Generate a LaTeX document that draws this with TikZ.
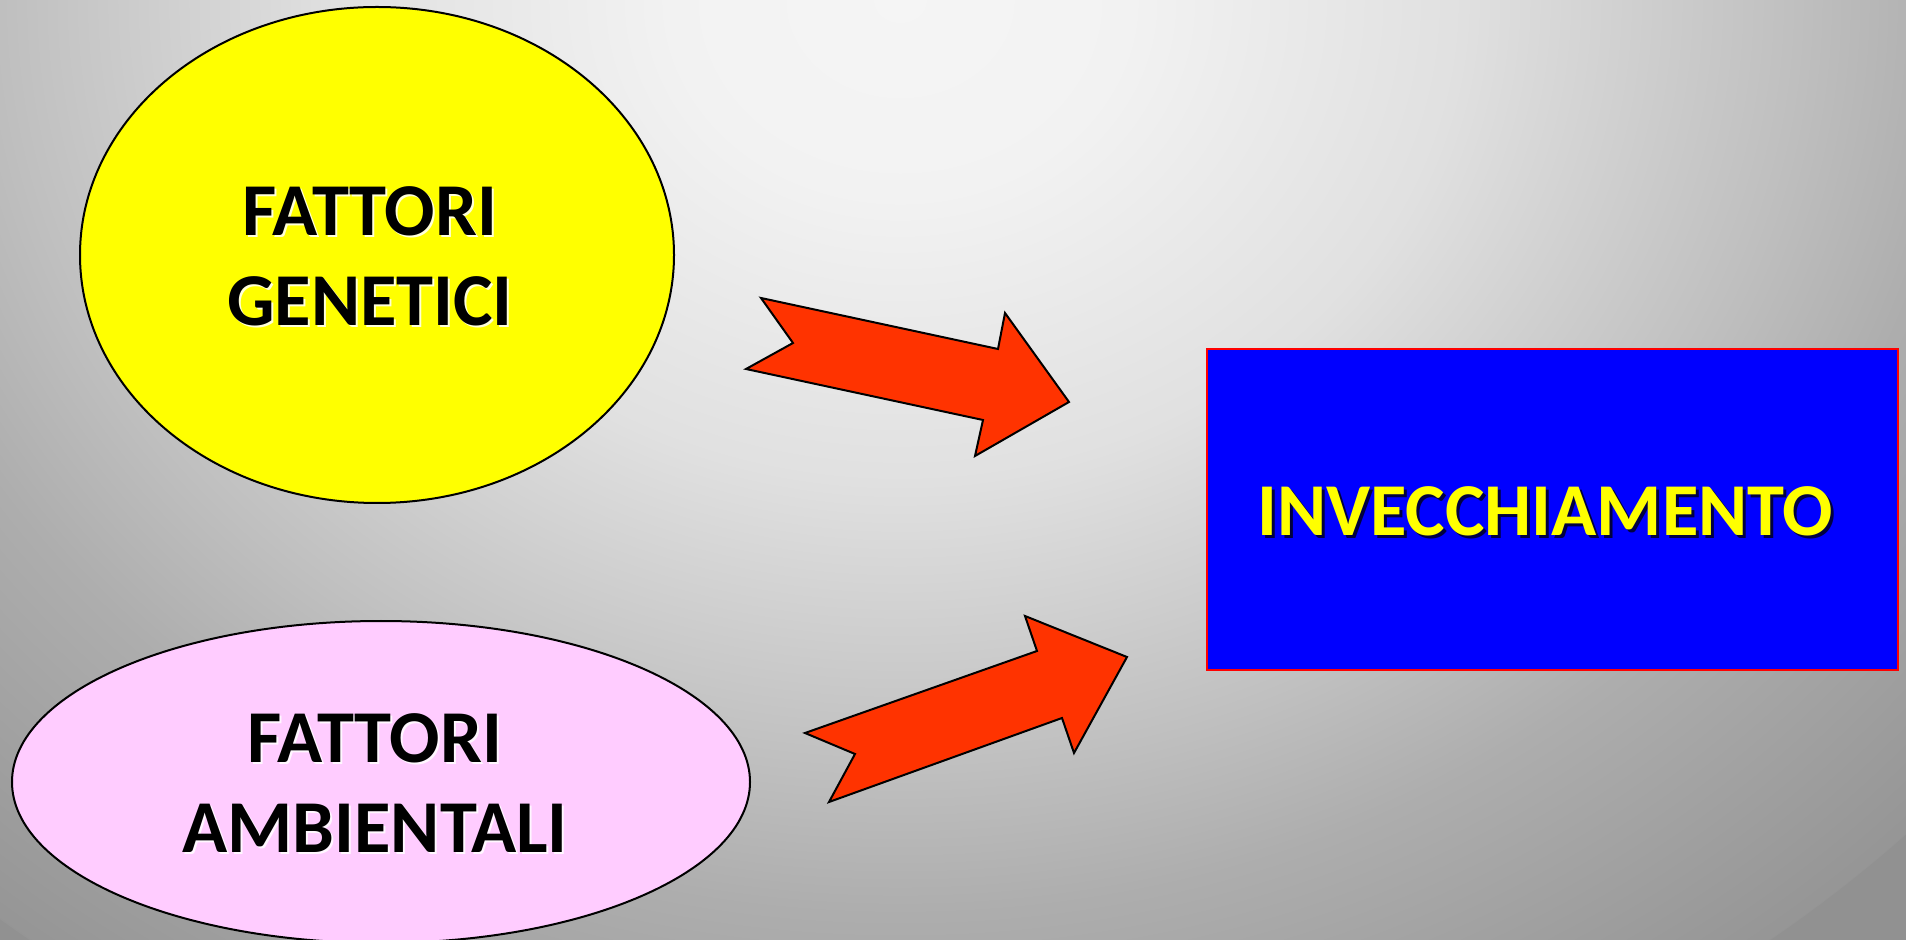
\documentclass[tikz,border=0pt]{standalone}
\usepackage{fontspec}
\setmainfont{Carlito}
\usepackage{tikz}
\usetikzlibrary{shapes.geometric}
\definecolor{agyellow}{HTML}{FFFF00}
\definecolor{agpink}{HTML}{FFCCFF}
\definecolor{agblue}{HTML}{0000FF}
\definecolor{agred}{HTML}{FF0000}
\definecolor{agarrow}{HTML}{FF3300}
\definecolor{agbase}{gray}{0.57}
\pgfdeclareradialshading{agglow}{\pgfpoint{0bp}{0bp}}{rgb(0bp)=(0.96,0.96,0.96); rgb(4bp)=(0.95,0.95,0.95); rgb(10bp)=(0.88,0.88,0.88); rgb(16bp)=(0.75,0.75,0.75); rgb(19bp)=(0.68,0.68,0.68); rgb(26bp)=(0.57,0.57,0.57); rgb(50bp)=(0.57,0.57,0.57)}
\tikzset{
  bubble/.style={ellipse, draw=black, line width=1pt, inner sep=0pt},
  bigtext/.style={font=\fontsize{37.3}{45}\selectfont\bfseries, align=center, inner sep=0pt},
  blackglow/.style={bigtext, text=white, opacity=0.85},
  yellowshade/.style={bigtext, text=black, opacity=0.75},
  fatarrow/.style={fill=agarrow, draw=black, line width=1pt, line join=miter}
}

\begin{document}
\begin{tikzpicture}[x=0.5pt, y=-0.5pt]
\useasboundingbox (0,0) rectangle (1906,940);
% sfondo
\begin{scope}
  \clip (0,0) rectangle (1906,940);
  \fill[agbase] (0,0) rectangle (1906,940);
  \shade[shading=agglow] (900,0) ellipse [x radius=1400, y radius=1200];
\end{scope}
% ellissi
\node[bubble, fill=agyellow, minimum width=297pt, minimum height=248pt] (geni) at (377,255) {};
\node[bubble, fill=agpink, minimum width=369pt, minimum height=161pt] (ambiente) at (381,782) {};
\node[blackglow] at (372,258) {FATTORI\\GENETICI};
\node[bigtext] (genitxt) at (370,256) {FATTORI\\GENETICI};
\node[blackglow] at (377,785) {FATTORI\\AMBIENTALI};
\node[bigtext] (ambtxt) at (375,783) {FATTORI\\AMBIENTALI};
% rettangolo
\node[draw=agred, fill=agblue, line width=1pt, minimum width=345.5pt, minimum height=160.5pt, inner sep=0pt] (vecchio) at (1552.5,509.5) {};
\node[yellowshade] at (1548,514) {INVECCHIAMENTO};
\node[bigtext, text=agyellow] (vecchiotxt) at (1545,511) {INVECCHIAMENTO};
% frecce
\filldraw[fatarrow] (761,298) -- (793,343) -- (746,369) -- (983,420) -- (975,456)
  -- (1069,402) -- (1005,313) -- (998,349) -- cycle;
\filldraw[fatarrow] (805,733) -- (855,754) -- (829,802) -- (1062,718) -- (1074,753)
  -- (1127,657) -- (1025,616) -- (1037,651) -- cycle;
\end{tikzpicture}
\end{document}
